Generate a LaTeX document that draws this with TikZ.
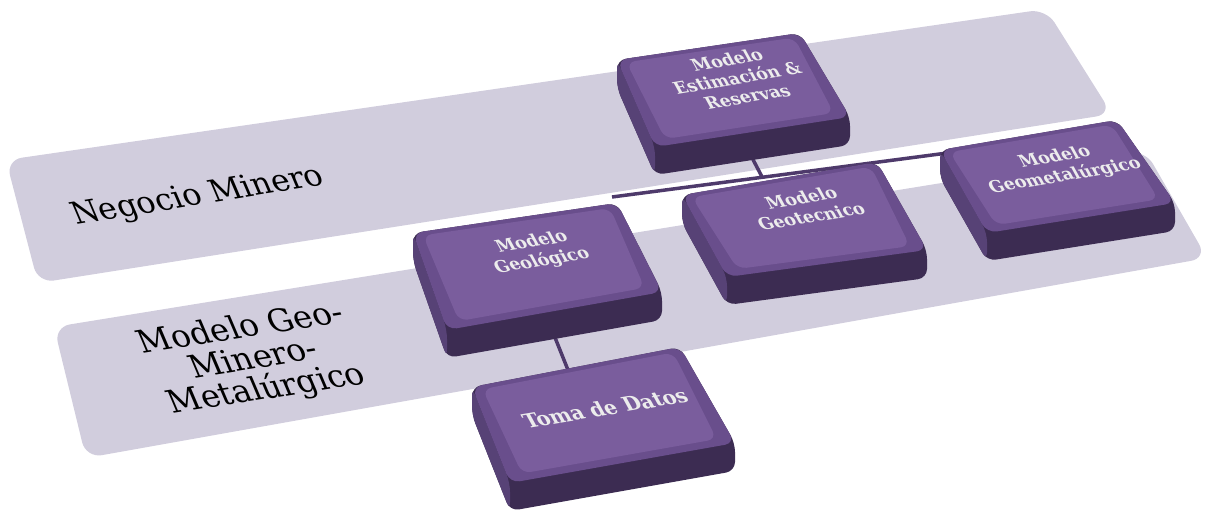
\documentclass[tikz,border=0pt]{standalone}
\usepackage{fontspec}
\setmainfont{DejaVu Serif}
\usetikzlibrary{positioning,calc}

\definecolor{bandgray}{HTML}{D1CDDD}
\definecolor{slabtop}{HTML}{7A5D9D}
\definecolor{slabrim}{HTML}{694E8C}
\definecolor{slabmid}{HTML}{574276}
\definecolor{slabdark}{HTML}{3C2C52}
\definecolor{linkpurple}{HTML}{4E3A6B}
\definecolor{boxwhite}{HTML}{ECECEC}

% raised block: top-left, top-right, bottom-right, bottom-left of the top face
\newcommand{\slab}[4]{%
  \fill[slabdark,rounded corners=9pt] (#1) -- (#2) -- (#3) -- ($(#3)+(0,28)$) -- ($(#4)+(0,28)$) -- ($(#1)+(0,28)$) -- cycle;
  \fill[slabmid,rounded corners=9pt] (#1) -- (#4) -- ($(#4)+(0,28)$) -- ($(#1)+(0,28)$) -- cycle;
  \fill[slabrim,rounded corners=10pt] (#1) -- (#2) -- (#3) -- (#4) -- cycle;
  \fill[slabtop,rounded corners=9pt] ($(#1)!0.04!(#3)$) -- ($(#2)!0.04!(#4)$) -- ($(#3)!0.07!(#1)$) -- ($(#4)!0.07!(#2)$) -- cycle;
}

\begin{document}
\begin{tikzpicture}[x=1pt,y=-1pt,
    band/.style={fill=bandgray,rounded corners=16pt},
    link/.style={draw=linkpurple,line width=3.5pt},
    bandtext/.style={align=center,rotate=9,xslant=-0.25},
    boxtext/.style={font=\bfseries\fontsize{17}{20}\selectfont,text=boxwhite,align=center,
                    rotate=9.5,xslant=-0.35}]

  \useasboundingbox (0,0) rectangle (1206,518);

  % the two levels
  \fill[band] (6,160) -- (1046,9) -- (1112,114) -- (38,283) -- cycle;
  \fill[band] (54,327) -- (1145,150) -- (1207,258) -- (86,458) -- cycle;

  \node[bandtext,font=\fontsize{31}{30}\selectfont] (negocio) at (198,197) {Negocio Minero};
  \node[bandtext,font=\fontsize{32}{32}\selectfont] (geominero) at (254,360)
       {Modelo Geo-\\Minero-\\Metalúrgico};

  % connectors
  \coordinate (busW) at (612,197);
  \coordinate (busE) at (955,152);
  \coordinate (busM) at ($(busW)!0.438!(busE)$);
  \coordinate (estS) at (748,150);
  \coordinate (geolS) at (552,330);
  \coordinate (tomaN) at (570,375);

  \draw[link] (busW) -- (busE);
  \draw[link] (estS) -- (busM);
  \draw[link] (geolS) -- (tomaN);

  % blocks, back to front
  \slab{617,60}{800,33}{850,117}{655,147}
  \slab{940,150}{1117,120}{1175,203}{987,233}
  \slab{682,195}{877,162}{927,250}{727,277}
  \slab{413,233}{617,203}{662,292}{447,330}
  \slab{472,387}{680,347}{735,443}{510,483}

  \node[boxtext] (est) at (737,78) {Modelo\\Estimación \&\\Reservas};
  \node[boxtext] (geomet) at (1060,167) {Modelo\\Geometalúrgico};
  \node[boxtext] (geotec) at (806,207) {Modelo\\Geotecnico};
  \node[boxtext] (geol) at (537,252) {Modelo\\Geológico};
  \node[boxtext,font=\bfseries\fontsize{20}{22}\selectfont] (toma) at (605,408) {Toma de Datos};

\end{tikzpicture}
\end{document}
